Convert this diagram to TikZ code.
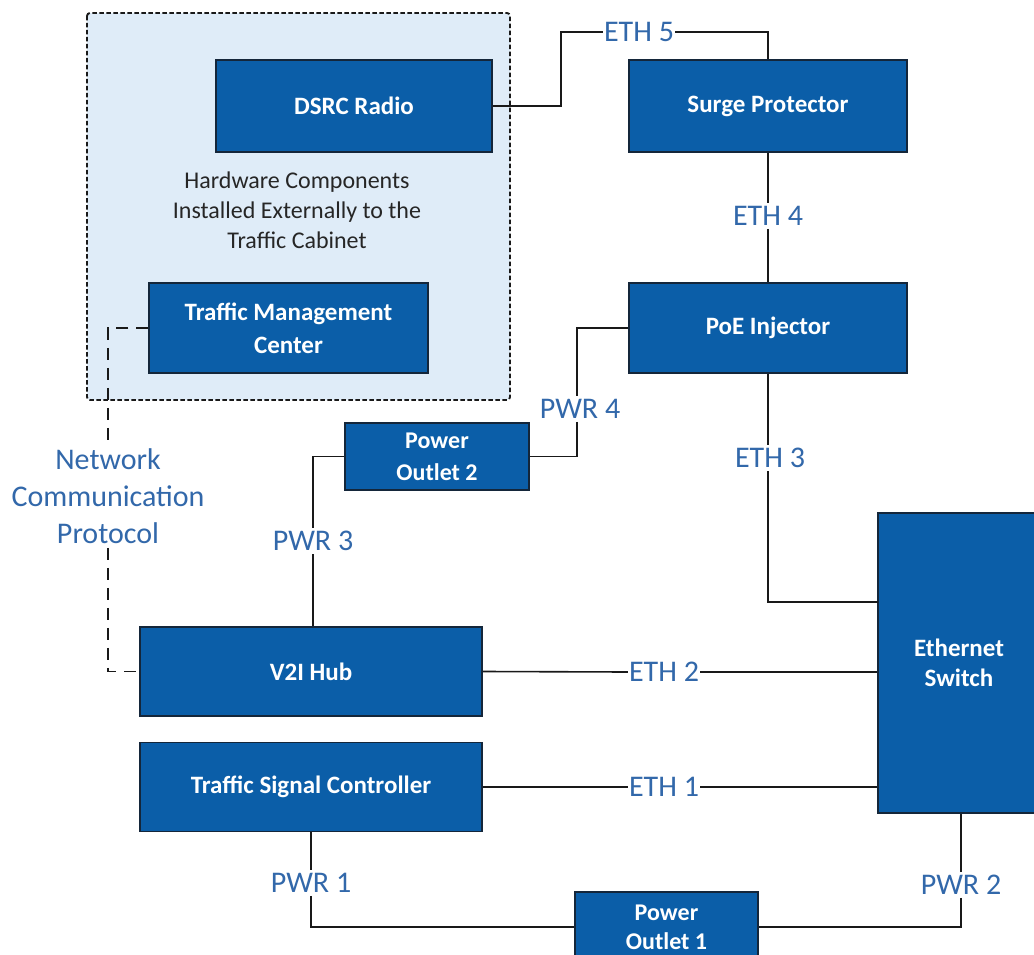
\documentclass[tikz,border=0pt]{standalone}
\usepackage{fontspec}
\setmainfont{Carlito}
\definecolor{boxblue}{HTML}{0B5EA8}
\definecolor{boxedge}{HTML}{14263A}
\definecolor{lblue}{HTML}{DFECF8}
\definecolor{lbl}{RGB}{50,104,170}
\definecolor{hwtext}{HTML}{262626}
\tikzset{
  comp/.style={rectangle, draw=boxedge, line width=1.5pt, fill=boxblue, text=white,
    font=\fontsize{25}{33}\selectfont\bfseries, align=center, inner sep=0pt},
  lab/.style={text=lbl, font=\fontsize{30}{36}\selectfont, inner sep=3pt, fill=white},
  wire/.style={draw=black!90, line width=1.6pt},
}
\begin{document}
\begin{tikzpicture}[x=1pt,y=-1pt]
\useasboundingbox (0,0) rectangle (1034,955);
% external hardware area
\path[draw=black!90, fill=lblue, line width=1.9pt, dash pattern=on 4.5pt off 2.5pt, rounded corners=3pt]
  (87,13) rectangle (510,400);
\node[text=hwtext, font=\fontsize{24}{30}\selectfont, align=center] (hw) at (297,210)
  {Hardware Components\\Installed Externally to the\\Traffic Cabinet};

% components
\node[comp, minimum width=276pt, minimum height=92pt] (dsrc) at (354,106) {DSRC Radio};
\node[comp, minimum width=278pt, minimum height=92pt] (surge) at (768,106) {Surge Protector};
\node[comp, minimum width=279pt, minimum height=90pt] (tmc) at (288.5,328) {Traffic Management\\Center};
\node[comp, minimum width=278pt, minimum height=90pt] (poe) at (768,328) {PoE Injector};
\node[comp, minimum width=184pt, minimum height=67pt, font=\fontsize{24}{32}\selectfont\bfseries] (po2) at (437,456.5) {Power\\Outlet 2};
\node[comp, minimum width=342pt, minimum height=89pt] (v2i) at (311,671.5) {V2I Hub};
\node[comp, minimum width=342pt, minimum height=89pt] (tsc) at (311,787) {Traffic Signal Controller};
\node[comp, minimum width=162pt, minimum height=300pt, font=\fontsize{25}{30}\selectfont\bfseries] (sw) at (959,663) {Ethernet\\Switch};
\node[comp, minimum width=183pt, minimum height=70pt, font=\fontsize{24}{29}\selectfont\bfseries] (po1) at (666.5,927) {Power\\Outlet 1};

% dashed network link
\coordinate (d1) at (108,328);
\coordinate (d2) at (108,671.5);
\draw[wire, line width=1.5pt, dash pattern=on 12pt off 8pt] (tmc.west) -- (d1) -- (d2) -- (v2i.west);
\node[lab, align=center, font=\fontsize{30}{37}\selectfont] (net) at (108,496)
  {Network\\Communication\\Protocol};

% labels
\node[lab, inner sep=1pt] (eth5) at (639,32) {ETH 5};
\node[lab] (eth4) at (768,216) {ETH 4};
\node[lab] (pwr4) at (580,409) {PWR 4};
\node[lab] (pwr3) at (313,541) {PWR 3};
\node[lab] (eth3) at (770,458) {ETH 3};
\node[lab, inner sep=1pt] (eth2) at (664,672) {ETH 2};
\node[lab, inner sep=1pt] (eth1) at (664,787) {ETH 1};
\node[lab] (pwr1) at (311,883) {PWR 1};
\node[lab] (pwr2) at (961,885) {PWR 2};

% connectors
\coordinate (k5) at (561,32);
\coordinate (k4) at (577,409);
\draw[wire] (dsrc.east) -| (k5) -- (eth5.west);
\draw[wire] (eth5.east) -| (surge.north);
\draw[wire] (surge.south) -- (eth4.north);
\draw[wire] (eth4.south) -- (poe.north);
\draw[wire] (poe.west) -| (k4 |- pwr4.north);
\draw[wire] (k4 |- pwr4.south) |- (po2.east);
\draw[wire] (po2.west) -| (pwr3.north);
\draw[wire] (pwr3.south) -- (pwr3.south |- v2i.north);
\coordinate (k3) at (878,602);
\draw[wire] (poe.south) -- (poe.south |- eth3.north);
\draw[wire] (poe.south |- eth3.south) |- (k3);
\draw[wire] (v2i.east) -- (eth2.west);
\draw[wire] (eth2.east) -- (eth2.east -| sw.west);
\draw[wire] (tsc.east) -- (eth1.west);
\draw[wire] (eth1.east) -- (eth1.east -| sw.west);
\draw[wire] (tsc.south) -- (pwr1.north);
\draw[wire] (pwr1.south) |- (po1.west);
\draw[wire] (pwr2.north) -- (pwr2.north |- sw.south);
\draw[wire] (pwr2.south) |- (po1.east);
\end{tikzpicture}
\end{document}
